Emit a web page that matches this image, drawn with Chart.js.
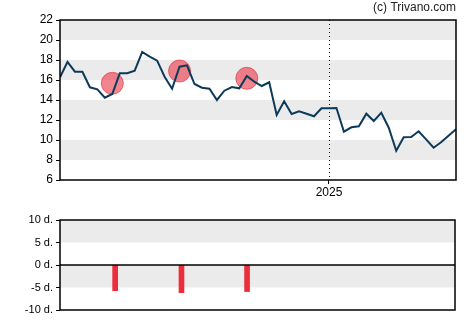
<!DOCTYPE html>
<html>
<head>
<meta charset="utf-8">
<script src="https://cdn.jsdelivr.net/npm/chart.js@4"></script>
<style>
  html, body { margin: 0; padding: 0; background: #fff; }
  #wrap { position: relative; width: 470px; height: 325px; }
  #price { position: absolute; left: 0; top: 0; }
  #events { position: absolute; left: 0; top: 200px; }
</style>
</head>
<body>
<div id="wrap">
  <canvas id="price" width="470" height="200"></canvas>
  <canvas id="events" width="470" height="125"></canvas>
</div>
<script>
// weekly closes, oldest first
const prices = [
  16.27, 17.8, 16.83, 16.83, 15.27, 15.07, 14.23, 14.6, 16.67, 16.67,
  16.93, 18.8, 18.33, 17.93, 16.33, 15.13, 17.33, 17.47, 15.6, 15.23,
  15.13, 14.0, 14.93, 15.3, 15.17, 16.4, 15.83, 15.4, 15.77, 12.5,
  13.87, 12.6, 12.87, 12.63, 12.37, 13.17, 13.17, 13.2, 10.83, 11.27,
  11.37, 12.63, 11.9, 12.73, 11.23, 8.93, 10.27, 10.3, 10.87, 10.07,
  9.23, 9.77, 10.43, 11.07
];
const weeks = prices.map((_, i) => i);

// highlighted events on the price line
const eventWeeks = [7, 16, 25];
const eventPrices = [15.67, 16.9, 16.17];

// lower panel: days relative to event
const barWeeks = [7.4, 16.3, 25.1];
const barDays = [-5.7, -6.15, -5.9];

const yearTickWeek = 36;
const yearTickLabel = '2025';

const priceBands = [[20, 22], [16, 18], [12, 14], [8, 10]];
const dayBands = [[5, 10], [-5, 0]];

const FONT = 'Liberation Sans, Arial, sans-serif';

// gray horizontal bands + black frame
function bandsPlugin(bands, zeroLine) {
  return {
    id: 'bands',
    beforeDatasetsDraw(chart) {
      const { ctx, chartArea: a, scales } = chart;
      ctx.save();
      ctx.fillStyle = '#ebebeb';
      bands.forEach(([lo, hi]) => {
        const y1 = scales.y.getPixelForValue(hi);
        const y2 = scales.y.getPixelForValue(lo);
        ctx.fillRect(a.left, y1, a.right - a.left, y2 - y1);
      });
      ctx.restore();
    },
    afterDatasetsDraw(chart) {
      const { ctx, chartArea: a, scales } = chart;
      ctx.save();
      ctx.strokeStyle = '#000';
      ctx.lineWidth = 1.5;
      if (zeroLine) {
        const y0 = scales.y.getPixelForValue(0);
        ctx.beginPath();
        ctx.moveTo(a.left, y0);
        ctx.lineTo(a.right, y0);
        ctx.stroke();
      }
      ctx.strokeRect(a.left, a.top, a.right - a.left, a.bottom - a.top);
      ctx.restore();
    }
  };
}

// dotted year marker
const yearLine = {
  id: 'yearLine',
  beforeDatasetsDraw(chart) {
    const { ctx, chartArea: a, scales } = chart;
    const x = Math.round(scales.x.getPixelForValue(yearTickWeek)) + 0.5;
    ctx.save();
    ctx.strokeStyle = '#000';
    ctx.lineWidth = 1;
    ctx.setLineDash([1, 3]);
    ctx.beginPath();
    ctx.moveTo(x, a.top);
    ctx.lineTo(x, a.bottom);
    ctx.stroke();
    ctx.restore();
  }
};

const copyright = {
  id: 'copyright',
  afterDraw(chart) {
    const { ctx } = chart;
    ctx.save();
    ctx.font = '12px ' + FONT;
    ctx.fillStyle = '#222';
    ctx.textAlign = 'right';
    ctx.textBaseline = 'middle';
    ctx.fillText('(c) Trivano.com', 456, 8);
    ctx.restore();
  }
};

new Chart(document.getElementById('price'), {
  type: 'line',
  data: {
    datasets: [
      {
        label: 'Price',
        data: weeks.map((w, i) => ({ x: w, y: prices[i] })),
        borderColor: '#0e3a5a',
        borderWidth: 2,
        pointRadius: 0,
        tension: 0,
        order: 1
      },
      {
        type: 'scatter',
        label: 'Events',
        data: eventWeeks.map((w, i) => ({ x: w, y: eventPrices[i] })),
        backgroundColor: 'rgba(234, 52, 70, 0.6)',
        borderColor: 'rgba(225, 60, 75, 0.7)',
        borderWidth: 1,
        pointRadius: 11,
        pointHoverRadius: 11,
        order: 2
      }
    ]
  },
  options: {
    responsive: false,
    animation: false,
    events: [],
    layout: { padding: { top: 20, right: 14, left: 0, bottom: 0 } },
    plugins: { legend: { display: false }, tooltip: { enabled: false } },
    scales: {
      x: {
        type: 'linear',
        min: 0,
        max: prices.length - 1,
        afterBuildTicks(scale) { scale.ticks = [{ value: yearTickWeek }]; },
        afterFit(scale) { scale.height = 20; },
        ticks: {
          callback: () => yearTickLabel,
          color: '#000',
          font: { family: FONT, size: 12 },
          padding: 1,
          maxRotation: 0
        },
        grid: { drawOnChartArea: false, drawTicks: true, tickLength: 4, color: '#000', lineWidth: 1 },
        border: { display: false }
      },
      y: {
        min: 6,
        max: 22,
        afterFit(scale) { scale.width = 60; },
        ticks: {
          stepSize: 2,
          color: '#000',
          font: { family: FONT, size: 12 },
          padding: 3
        },
        grid: { drawOnChartArea: false, drawTicks: true, tickLength: 4, color: '#000', lineWidth: 1 },
        border: { display: false }
      }
    }
  },
  plugins: [bandsPlugin(priceBands, false), yearLine, copyright]
});

new Chart(document.getElementById('events'), {
  type: 'bar',
  data: {
    datasets: [{
      label: 'Days',
      data: barWeeks.map((w, i) => ({ x: w, y: barDays[i] })),
      backgroundColor: '#ec2d3c',
      barThickness: 5
    }]
  },
  options: {
    responsive: false,
    animation: false,
    events: [],
    layout: { padding: { top: 20, right: 15, left: 0, bottom: 15 } },
    plugins: { legend: { display: false }, tooltip: { enabled: false } },
    scales: {
      x: {
        type: 'linear',
        min: 0,
        max: prices.length - 1,
        offset: false,
        grid: { offset: false },
        display: false
      },
      y: {
        min: -10,
        max: 10,
        afterFit(scale) { scale.width = 60; },
        ticks: {
          stepSize: 5,
          color: '#000',
          font: { family: FONT, size: 11 },
          padding: 3,
          callback: v => v + ' d.'
        },
        grid: { drawOnChartArea: false, drawTicks: true, tickLength: 4, color: '#000', lineWidth: 1 },
        border: { display: false }
      }
    }
  },
  plugins: [bandsPlugin(dayBands, true)]
});
</script>
</body>
</html>
